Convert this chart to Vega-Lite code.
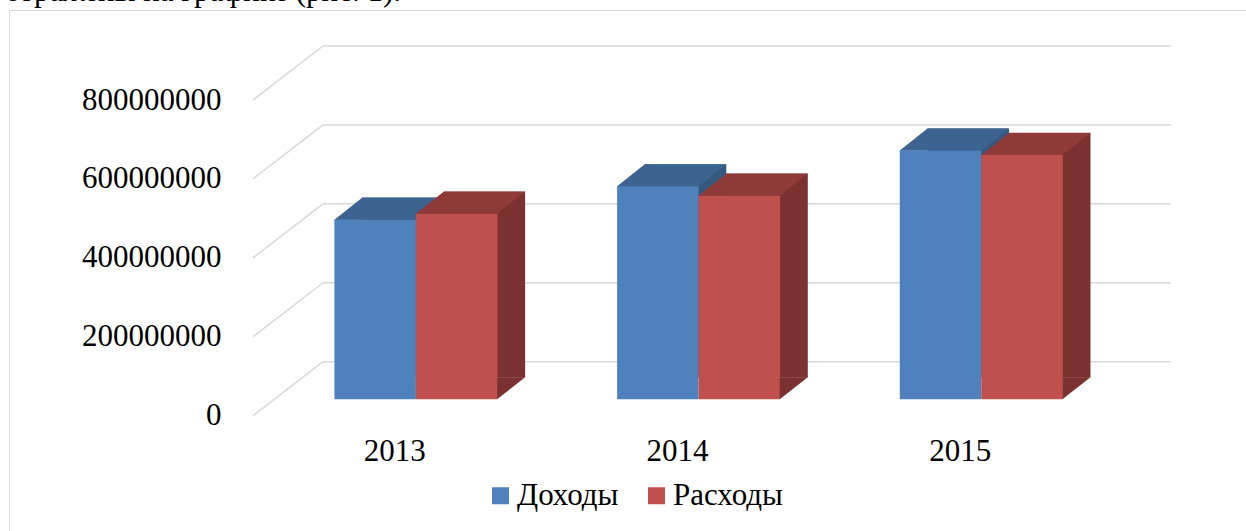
{
  "$schema": "https://vega.github.io/schema/vega-lite/v6.json",
  "width": 1237,
  "height": 521,
  "autosize": "none",
  "padding": {"left": 9, "top": 10, "right": 0, "bottom": 0},
  "background": "white",
  "config": {
    "view": {"stroke": "#d9d9d9", "strokeWidth": 1, "fill": "white"},
    "font": "Liberation Serif",
    "axis": {"labelFont": "Liberation Serif", "labelColor": "#000000"},
    "legend": {"labelFont": "Liberation Serif"}
  },
  "title": {
    "text": "отражены на графике (рис. 1).",
    "anchor": "start",
    "frame": "group",
    "orient": "top",
    "offset": 8,
    "baseline": "alphabetic",
    "dx": -4,
    "dy": 30,
    "font": "Liberation Serif",
    "fontSize": 31,
    "fontWeight": "normal",
    "color": "#000000"
  },
  "datasets": {
    "bars": [
      {"year": 2013, "series": "Доходы", "value": 456300000},
      {"year": 2013, "series": "Расходы", "value": 471500000},
      {"year": 2014, "series": "Доходы", "value": 540700000},
      {"year": 2014, "series": "Расходы", "value": 517100000},
      {"year": 2015, "series": "Доходы", "value": 631200000},
      {"year": 2015, "series": "Расходы", "value": 620300000}
    ],
    "ticks": [
      {"tick": 0},
      {"tick": 200000000},
      {"tick": 400000000},
      {"tick": 600000000},
      {"tick": 800000000}
    ]
  },
  "layer": [
    {
      "data": {"name": "ticks"},
      "mark": {"type": "rule", "color": "#d9d9d9", "strokeWidth": 1.5, "xOffset": 70, "x2Offset": 70, "yOffset": -54},
      "encoding": {
        "x": {"datum": 2012.5, "type": "quantitative", "scale": {"domain": [2012.5, 2015.5], "range": [239, 1097], "nice": false, "zero": false}, "axis": null},
        "x2": {"datum": 2015.5},
        "y": {"field": "tick", "type": "quantitative", "scale": {"domain": [0, 800000000], "range": [405.7, 90], "nice": false, "zero": false}, "axis": null}
      }
    },
    {
      "data": {"name": "ticks"},
      "mark": {"type": "rule", "color": "#d9d9d9", "strokeWidth": 1.5, "x2Offset": 70, "y2Offset": -54},
      "encoding": {
        "x": {"datum": 2012.5, "type": "quantitative", "scale": {"domain": [2012.5, 2015.5], "range": [239, 1097], "nice": false, "zero": false}, "axis": null},
        "x2": {"datum": 2012.5},
        "y": {
          "field": "tick", "type": "quantitative",
          "scale": {"domain": [0, 800000000], "range": [405.7, 90], "nice": false, "zero": false},
          "axis": {"values": [0, 200000000, 400000000, 600000000, 800000000], "format": "d", "offset": -239, "labelPadding": 27, "ticks": false, "domain": false, "grid": false, "title": null, "labelFontSize": 31, "labelColor": "#000000", "labelOverlap": false}
        },
        "y2": {"field": "tick"}
      }
    },
    {
      "data": {"name": "bars"},
      "transform": [{"filter": "datum.series === 'Доходы'"}],
      "mark": {"type": "bar", "color": "#35587F", "width": 81.5, "xOffset": 8.55, "yOffset": -38.1, "y2Offset": -38.1},
      "encoding": {
        "x": {"field": "year", "type": "quantitative", "scale": {"domain": [2012.5, 2015.5], "range": [239, 1097], "nice": false, "zero": false}, "axis": null},
        "y": {"field": "value", "type": "quantitative", "scale": {"domain": [0, 800000000], "range": [405.7, 90], "nice": false, "zero": false}, "axis": null},
        "y2": {"datum": 0}
      }
    },
    {
      "data": {"name": "bars"},
      "transform": [{"filter": "datum.series === 'Доходы'"}],
      "mark": {"type": "bar", "width": 81.5, "xOffset": -19.15, "yOffset": -16.4, "y2Offset": -16.4},
      "encoding": {
        "x": {
          "field": "year", "type": "quantitative",
          "scale": {"domain": [2012.5, 2015.5], "range": [239, 1097], "nice": false, "zero": false},
          "axis": {"values": [2013, 2014, 2015], "format": "d", "orient": "bottom", "offset": -115.3, "labelPadding": 21, "ticks": false, "domain": false, "grid": false, "title": null, "labelFontSize": 31, "labelColor": "#000000", "labelFlush": false}
        },
        "y": {"field": "value", "type": "quantitative", "scale": {"domain": [0, 800000000], "range": [405.7, 90], "nice": false, "zero": false}, "axis": null},
        "y2": {"datum": 0},
        "color": {
          "field": "series", "type": "nominal",
          "scale": {"domain": ["Доходы", "Расходы"], "range": ["#4F81BD", "#C0504D"]},
          "legend": {"orient": "none", "direction": "horizontal", "legendX": 476, "legendY": 470, "title": null, "symbolType": "square", "symbolSize": 289, "symbolStrokeWidth": 0, "symbolOpacity": 1, "labelFontSize": 31, "labelColor": "#000000", "labelOffset": 1, "columnPadding": 22, "padding": 0}
        }
      }
    },
    {
      "data": {"name": "bars"},
      "transform": [{"filter": "datum.series === 'Доходы'"}],
      "mark": {"type": "point", "shape": "M-40.75,0.4L40.75,0.4L68.45,-21.6L-13.05,-21.6Z", "size": 4, "filled": true, "opacity": 1, "strokeWidth": 0, "color": "#3D6491", "xOffset": -19.15, "yOffset": -16.4},
      "encoding": {
        "x": {"field": "year", "type": "quantitative", "scale": {"domain": [2012.5, 2015.5], "range": [239, 1097], "nice": false, "zero": false}, "axis": null},
        "y": {"field": "value", "type": "quantitative", "scale": {"domain": [0, 800000000], "range": [405.7, 90], "nice": false, "zero": false}, "axis": null}
      }
    },
    {
      "data": {"name": "bars"},
      "transform": [{"filter": "datum.series === 'Расходы'"}],
      "mark": {"type": "bar", "color": "#7B3130", "width": 81.5, "xOffset": 90.05, "yOffset": -38.1, "y2Offset": -38.1},
      "encoding": {
        "x": {"field": "year", "type": "quantitative", "scale": {"domain": [2012.5, 2015.5], "range": [239, 1097], "nice": false, "zero": false}, "axis": null},
        "y": {"field": "value", "type": "quantitative", "scale": {"domain": [0, 800000000], "range": [405.7, 90], "nice": false, "zero": false}, "axis": null},
        "y2": {"datum": 0}
      }
    },
    {
      "data": {"name": "bars"},
      "transform": [{"filter": "datum.series === 'Расходы'"}],
      "mark": {"type": "bar", "width": 81.5, "xOffset": 62.35, "yOffset": -16.4, "y2Offset": -16.4},
      "encoding": {
        "x": {"field": "year", "type": "quantitative", "scale": {"domain": [2012.5, 2015.5], "range": [239, 1097], "nice": false, "zero": false}, "axis": null},
        "y": {"field": "value", "type": "quantitative", "scale": {"domain": [0, 800000000], "range": [405.7, 90], "nice": false, "zero": false}, "axis": null},
        "y2": {"datum": 0},
        "color": {
          "field": "series", "type": "nominal",
          "scale": {"domain": ["Доходы", "Расходы"], "range": ["#4F81BD", "#C0504D"]}
        }
      }
    },
    {
      "data": {"name": "bars"},
      "transform": [{"filter": "datum.series === 'Расходы'"}],
      "mark": {"type": "point", "shape": "M-40.75,0.4L40.75,0.4L68.45,-21.6L-13.05,-21.6Z", "size": 4, "filled": true, "opacity": 1, "strokeWidth": 0, "color": "#8E3A38", "xOffset": 62.35, "yOffset": -16.4},
      "encoding": {
        "x": {"field": "year", "type": "quantitative", "scale": {"domain": [2012.5, 2015.5], "range": [239, 1097], "nice": false, "zero": false}, "axis": null},
        "y": {"field": "value", "type": "quantitative", "scale": {"domain": [0, 800000000], "range": [405.7, 90], "nice": false, "zero": false}, "axis": null}
      }
    },
    {
      "data": {"name": "bars"},
      "transform": [{"filter": "datum.series === 'Расходы'"}],
      "mark": {"type": "point", "shape": "M40.4,0L40.4,-22L68.45,-22Z", "size": 4, "filled": true, "opacity": 1, "strokeWidth": 0, "color": "#7B3130", "xOffset": 62.35, "yOffset": -16.4},
      "encoding": {
        "x": {"field": "year", "type": "quantitative", "scale": {"domain": [2012.5, 2015.5], "range": [239, 1097], "nice": false, "zero": false}, "axis": null},
        "y": {"datum": 0, "type": "quantitative", "scale": {"domain": [0, 800000000], "range": [405.7, 90], "nice": false, "zero": false}, "axis": null}
      }
    }
  ],
  "resolve": {"axis": {"x": "independent", "y": "independent"}}
}
